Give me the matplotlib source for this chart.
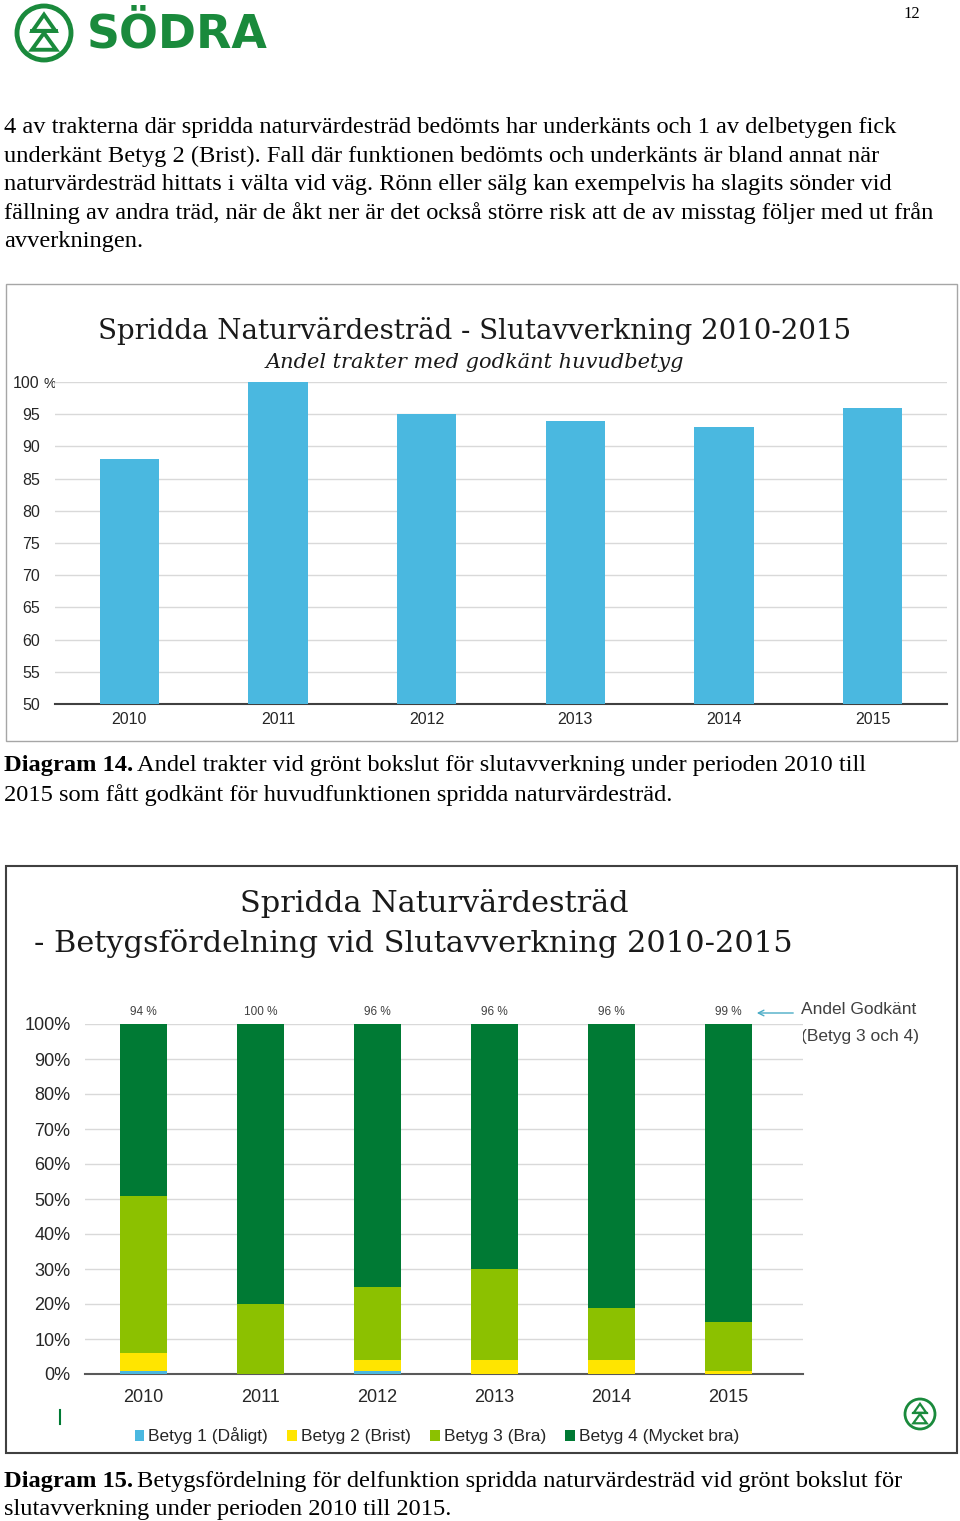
import matplotlib
matplotlib.use('Agg')
import matplotlib.pyplot as plt
from matplotlib.patches import Rectangle, Circle, Polygon
import numpy as np

plt.rcParams['font.family'] = ['Liberation Sans', 'DejaVu Sans']

# data
years = ['2010', '2011', '2012', '2013', '2014', '2015']
andel_godkant = [88, 100, 95, 94, 93, 96]

betyg1 = [1, 0, 1, 0, 0, 0]
betyg2 = [5, 0, 3, 4, 4, 1]
betyg3 = [45, 20, 21, 26, 15, 14]
betyg4 = [49, 80, 75, 70, 81, 85]
godkant_labels = ['94 %', '100 %', '96 %', '96 %', '96 %', '99 %']
legend_names = ['Betyg 1 (Dåligt)', 'Betyg 2 (Brist)', 'Betyg 3 (Bra)', 'Betyg 4 (Mycket bra)']

body_lines = [
    "4 av trakterna där spridda naturvärdesträd bedömts har underkänts och 1 av delbetygen fick",
    "underkänt Betyg 2 (Brist). Fall där funktionen bedömts och underkänts är bland annat när",
    "naturvärdesträd hittats i välta vid väg. Rönn eller sälg kan exempelvis ha slagits sönder vid",
    "fällning av andra träd, när de åkt ner är det också större risk att de av misstag följer med ut från",
    "avverkningen.",
]

W, H = 960, 1521
fig = plt.figure(figsize=(W / 100, H / 100), dpi=100)
bg = fig.add_axes([0, 0, 1, 1])
bg.set_xlim(0, W)
bg.set_ylim(H, 0)
bg.axis('off')

GREEN = '#1a8a3c'
serif = ['Liberation Serif', 'DejaVu Serif']
BODY = 17.6


def ax_rect(left, top, right, bottom):
    return [left / W, 1 - bottom / H, (right - left) / W, (bottom - top) / H]


def logo(cx, cy, r, lw):
    bg.add_patch(Circle((cx, cy), r, fill=False, ec=GREEN, lw=lw))
    bg.add_patch(Polygon([(cx, cy - 0.68 * r), (cx - 0.42 * r, cy - 0.08 * r), (cx + 0.42 * r, cy - 0.08 * r)],
                         closed=True, fill=False, ec=GREEN, lw=lw * 0.8))
    bg.add_patch(Polygon([(cx, cy + 0.0 * r), (cx - 0.45 * r, cy + 0.62 * r), (cx + 0.45 * r, cy + 0.62 * r)],
                         closed=True, fill=False, ec=GREEN, lw=lw * 0.8))
    bg.plot([cx - 0.45 * r, cx + 0.45 * r], [cy - 0.08 * r, cy - 0.08 * r], color=GREEN, lw=lw * 0.8)


# header
logo(44, 33, 27, 3.5)
bg.text(87, 35, 'SÖDRA', fontsize=33, fontweight='bold', color=GREEN, family='DejaVu Sans',
        ha='left', va='center')
bg.text(912, 14, '12', fontsize=12, family=serif, ha='center', va='center')

for i, line in enumerate(body_lines):
    bg.text(4, 128 + i * 28.3, line, fontsize=BODY, family=serif, ha='left', va='center')

# ---------- diagram 14 ----------
bg.add_patch(Rectangle((6, 284), 951, 457, fill=False, ec='#a6a6a6', lw=1))
bg.text(475, 331, 'Spridda Naturvärdesträd - Slutavverkning 2010-2015', fontsize=19.9,
        family=['DejaVu Serif'], ha='center', va='center', color='#1a1a1a')
bg.text(475, 362, 'Andel trakter med godkänt huvudbetyg', fontsize=15, style='italic',
        family=['DejaVu Serif'], ha='center', va='center', color='#1a1a1a')

ax1 = fig.add_axes(ax_rect(55, 382, 947, 704))
x = np.arange(len(years))
ax1.bar(x, [v - 50 for v in andel_godkant], bottom=50, width=0.4, color='#4ab8e0', zorder=3, clip_on=False)
ax1.set_xlim(-0.5, 5.5)
ax1.set_ylim(50, 100)
ax1.set_yticks(range(50, 101, 5))
ax1.set_yticklabels([str(v) for v in range(50, 101, 5)])
ax1.set_xticks(x)
ax1.set_xticklabels(years)
ax1.tick_params(axis='y', length=0, pad=11, labelsize=11.5, labelcolor='#262626')
ax1.tick_params(axis='x', length=0, pad=6, labelsize=11.5, labelcolor='#262626')
ax1.grid(axis='y', color='#d9d9d9', lw=1, zorder=0)
for s in ['top', 'right', 'left']:
    ax1.spines[s].set_visible(False)
ax1.spines['bottom'].set_color('#404040')
ax1.spines['bottom'].set_linewidth(1.5)
bg.text(43, 384, '%', fontsize=10, ha='left', va='center', color='#262626')

bg.text(4, 766, 'Diagram 14.', fontsize=BODY, fontweight='bold', family=serif, ha='left', va='center')
bg.text(137, 766, 'Andel trakter vid grönt bokslut för slutavverkning under perioden 2010 till',
        fontsize=BODY, family=serif, ha='left', va='center')
bg.text(4, 795, '2015 som fått godkänt för huvudfunktionen spridda naturvärdesträd.',
        fontsize=BODY, family=serif, ha='left', va='center')

# ---------- diagram 15 ----------
bg.add_patch(Rectangle((6, 866), 951, 587, fill=False, ec='#404040', lw=1.5))
bg.text(434, 903, 'Spridda Naturvärdesträd', fontsize=21.9, family=['DejaVu Serif'],
        ha='center', va='center', color='#1a1a1a')
bg.text(413, 944, '- Betygsfördelning vid Slutavverkning 2010-2015', fontsize=21.9, family=['DejaVu Serif'],
        ha='center', va='center', color='#1a1a1a')

ax2 = fig.add_axes(ax_rect(85, 1024, 803, 1374))
colors = ['#4ab8e0', '#ffe500', '#8cc100', '#007a34']
bottom = np.zeros(len(years))
handles = []
for vals, c, name in zip([betyg1, betyg2, betyg3, betyg4], colors, legend_names):
    b = ax2.bar(x, vals, bottom=bottom, width=0.4, color=c, zorder=3, label=name)
    handles.append(b)
    bottom += np.array(vals)
ax2.set_xlim(-0.5, 5.64)
ax2.set_ylim(0, 100)
ax2.set_yticks(range(0, 101, 10))
ax2.set_yticklabels([f'{v}%' for v in range(0, 101, 10)])
ax2.set_xticks(x)
ax2.set_xticklabels(years)
ax2.tick_params(axis='y', length=0, pad=10.5, labelsize=13, labelcolor='#262626')
ax2.tick_params(axis='x', length=0, pad=11, labelsize=13, labelcolor='#262626')
ax2.grid(axis='y', color='#d9d9d9', lw=1, zorder=0)
for s in ['top', 'right', 'left']:
    ax2.spines[s].set_visible(False)
ax2.spines['bottom'].set_color('#595959')
ax2.spines['bottom'].set_linewidth(1.5)
for xi, lab in zip(x, godkant_labels):
    ax2.annotate(lab, (xi, 100), xytext=(0, 4), textcoords='offset points', ha='center', va='bottom',
                 fontsize=8.5, color='#404040')

bg.annotate('', xy=(754, 1013), xytext=(796, 1013),
            arrowprops=dict(arrowstyle='->', color='#4bacc6', lw=1))
bg.text(801, 1010, 'Andel Godkänt', fontsize=12.5, ha='left', va='center', color='#404040')
bg.text(801, 1036, '(Betyg 3 och 4)', fontsize=12.5, ha='left', va='center', color='#404040')

bg.plot([60, 60], [1410, 1424], color='#007a34', lw=1.5)
bg.legend(handles=handles, loc='center', bbox_to_anchor=(437 / W, 1 - 1436 / H), bbox_transform=fig.transFigure,
          ncol=4, frameon=False, fontsize=12.5, handlelength=0.55, handleheight=0.55, handletextpad=0.25,
          columnspacing=1.1, labelcolor='#262626')
logo(920, 1414, 15, 2)

bg.text(4, 1481, 'Diagram 15.', fontsize=BODY, fontweight='bold', family=serif, ha='left', va='center')
bg.text(137, 1481, 'Betygsfördelning för delfunktion spridda naturvärdesträd vid grönt bokslut för',
        fontsize=BODY, family=serif, ha='left', va='center')
bg.text(4, 1509, 'slutavverkning under perioden 2010 till 2015.', fontsize=BODY, family=serif,
        ha='left', va='center')

fig.savefig('out.png', dpi=100)
